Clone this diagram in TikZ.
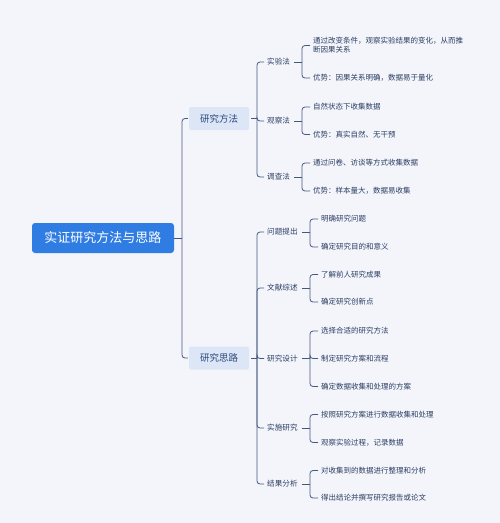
\documentclass[tikz,border=0pt]{standalone}
\usepackage{fontspec}
\setmainfont{Noto Sans CJK SC}
\definecolor{bg}{HTML}{F3F5FB}
\definecolor{rootblue}{HTML}{2F7CE3}
\definecolor{l1fill}{HTML}{DCE6F6}
\definecolor{txt}{HTML}{2C3E63}
\definecolor{l1txt}{HTML}{2D4A7C}
\definecolor{ln}{HTML}{44587E}
\tikzset{
  rootbox/.style={fill=rootblue, rounded corners=3pt, text=white, font=\fontsize{13}{15}\selectfont, minimum width=142pt, minimum height=30pt, inner sep=0pt},
  topicbox/.style={fill=l1fill, rounded corners=2pt, text=l1txt, font=\fontsize{9.5}{11}\selectfont, minimum width=60pt, minimum height=23pt, inner sep=0pt},
  subtopic/.style={anchor=west, text=txt, font=\fontsize{7.6}{9}\selectfont, inner sep=2pt},
  leaf/.style={anchor=west, text=txt, font=\fontsize{7.5}{9}\selectfont, inner sep=2pt, align=left},
  conn/.style={draw=ln, line width=0.8pt, rounded corners=3pt},
}
\begin{document}
\begin{tikzpicture}[x=1pt,y=-1pt]
\fill[bg] (0,0) rectangle (500,523);
\useasboundingbox (0,0) rectangle (500,523);

% root
\node[rootbox] (root) at (103,238) {实证研究方法与思路};
% level 1
\node[topicbox] (m) at (219,118.5) {研究方法};
\node[topicbox] (s) at (219,358) {研究思路};
\coordinate (jr) at (182,238);
\draw[conn] (root.east) -- (jr);
\draw[conn] (jr) |- ([xshift=-1pt]m.west);
\draw[conn] (jr) |- ([xshift=-1pt]s.west);

% level 2 under 研究方法
\node[subtopic] (m1) at (265,62) {实验法};
\node[subtopic] (m2) at (265,121) {观察法};
\node[subtopic] (m3) at (265,177) {调查法};
\coordinate (jm) at (257,118.5);
\draw[conn] ([xshift=2pt]m.east) -- (jm);
\foreach \c in {m1,m2,m3} \draw[conn] (jm) |- ([xshift=-1pt]\c.west);

% level 2 under 研究思路
\node[subtopic] (s1) at (265,232) {问题提出};
\node[subtopic] (s2) at (265,288) {文献综述};
\node[subtopic] (s3) at (265,358.5) {研究设计};
\node[subtopic] (s4) at (265,428) {实施研究};
\node[subtopic] (s5) at (265,484) {结果分析};
\coordinate (js) at (257,358);
\draw[conn] ([xshift=2pt]s.east) -- (js);
\foreach \c in {s1,s2,s3,s4,s5} \draw[conn] (js) |- ([xshift=-1pt]\c.west);

% leaves: 实验法
\node[leaf] (m1a) at (311,45.5) {通过改变条件，观察实验结果的变化，从而推\\断因果关系};
\node[leaf] (m1b) at (311,78) {优势：因果关系明确，数据易于量化};
\coordinate (jm1) at (302,62);
\draw[conn] ([xshift=2pt]m1.east) -- (jm1);
\foreach \c in {m1a,m1b} \draw[conn] (jm1) |- ([xshift=-1pt]\c.west);

% 观察法
\node[leaf] (m2a) at (311,107) {自然状态下收集数据};
\node[leaf] (m2b) at (311,134.5) {优势：真实自然、无干预};
\coordinate (jm2) at (302,121);
\draw[conn] ([xshift=2pt]m2.east) -- (jm2);
\foreach \c in {m2a,m2b} \draw[conn] (jm2) |- ([xshift=-1pt]\c.west);

% 调查法
\node[leaf] (m3a) at (311,163) {通过问卷、访谈等方式收集数据};
\node[leaf] (m3b) at (311,191) {优势：样本量大，数据易收集};
\coordinate (jm3) at (302,177);
\draw[conn] ([xshift=2pt]m3.east) -- (jm3);
\foreach \c in {m3a,m3b} \draw[conn] (jm3) |- ([xshift=-1pt]\c.west);

% 问题提出
\node[leaf] (s1a) at (319,219) {明确研究问题};
\node[leaf] (s1b) at (319,247) {确定研究目的和意义};
\coordinate (js1) at (310,232);
\draw[conn] ([xshift=2pt]s1.east) -- (js1);
\foreach \c in {s1a,s1b} \draw[conn] (js1) |- ([xshift=-1pt]\c.west);

% 文献综述
\node[leaf] (s2a) at (319,274.5) {了解前人研究成果};
\node[leaf] (s2b) at (319,302) {确定研究创新点};
\coordinate (js2) at (310,288);
\draw[conn] ([xshift=2pt]s2.east) -- (js2);
\foreach \c in {s2a,s2b} \draw[conn] (js2) |- ([xshift=-1pt]\c.west);

% 研究设计
\node[leaf] (s3a) at (319,331) {选择合适的研究方法};
\node[leaf] (s3b) at (319,358.5) {制定研究方案和流程};
\node[leaf] (s3c) at (319,386.5) {确定数据收集和处理的方案};
\coordinate (js3) at (310,358.5);
\draw[conn] ([xshift=2pt]s3.east) -- (js3);
\foreach \c in {s3a,s3b,s3c} \draw[conn] (js3) |- ([xshift=-1pt]\c.west);

% 实施研究
\node[leaf] (s4a) at (319,414.5) {按照研究方案进行数据收集和处理};
\node[leaf] (s4b) at (319,442.5) {观察实验过程，记录数据};
\coordinate (js4) at (310,428);
\draw[conn] ([xshift=2pt]s4.east) -- (js4);
\foreach \c in {s4a,s4b} \draw[conn] (js4) |- ([xshift=-1pt]\c.west);

% 结果分析
\node[leaf] (s5a) at (319,470.5) {对收集到的数据进行整理和分析};
\node[leaf] (s5b) at (319,498) {得出结论并撰写研究报告或论文};
\coordinate (js5) at (310,484);
\draw[conn] ([xshift=2pt]s5.east) -- (js5);
\foreach \c in {s5a,s5b} \draw[conn] (js5) |- ([xshift=-1pt]\c.west);
\end{tikzpicture}
\end{document}
